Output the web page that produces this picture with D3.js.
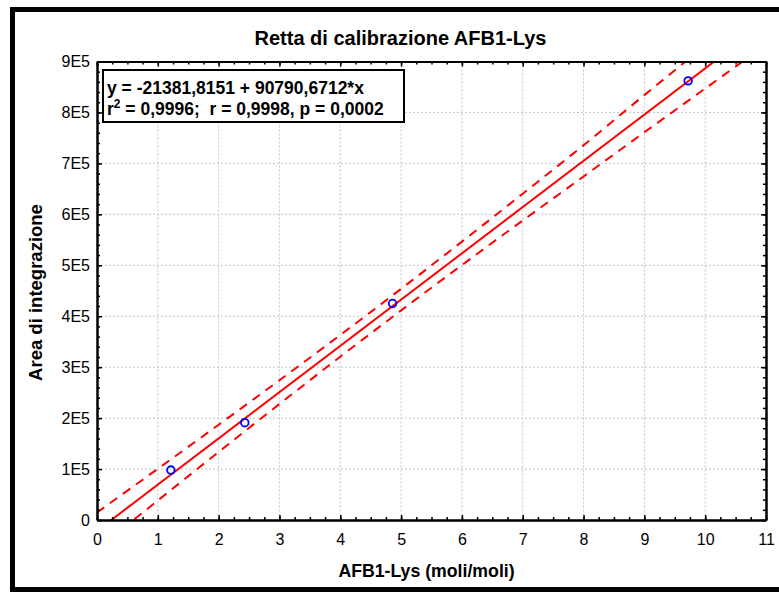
<!DOCTYPE html>
<html>
<head>
<meta charset="utf-8">
<script src="https://cdn.jsdelivr.net/npm/d3@7"></script>
<style>
  body { margin: 0; background: #fff; }
  svg text { font-family: Arial, "Liberation Sans", sans-serif; }
</style>
</head>
<body>
<script>
// calibration points
let concX = [1.215, 2.43, 4.86, 9.72];
let areaY = [98000, 191000, 425000, 862000];

// fit from the legend
let intercept = -21381.8151,
    slope = 90790.6712;
let fitX = [0, 11];

// confidence band, at each integer x
let bandX = [0, 1, 2, 3, 4, 5, 6, 7, 8, 9, 10, 11];
let bandUpper = [14700, 100500, 186900, 274300, 363100, 453800, 546400, 640500, 735500, 834000, 931000, 1026000];
let bandLower = [-57500, 38300, 133500, 227700, 320500, 411400, 500400, 587900, 674300, 761000, 847000, 933000];

let xTicks = [0, 1, 2, 3, 4, 5, 6, 7, 8, 9, 10, 11];
let yTicks = [0, 100000, 200000, 300000, 400000, 500000, 600000, 700000, 800000, 900000];
let yTickLabels = ["0", "1E5", "2E5", "3E5", "4E5", "5E5", "6E5", "7E5", "8E5", "9E5"];

let width = 779,
    height = 592;

let margin = {
  top: 61.5,
  bottom: 72,
  left: 97,
  right: 13
};

let w = width - margin.left - margin.right,
    h = height - margin.top - margin.bottom;

let root = d3.select('body')
    .append("svg")
    .attr("width", width)
    .attr("height", height);

root.append("rect")
    .attr("width", width)
    .attr("height", height)
    .attr("fill", "#fff");

// outer frame
root.append("rect")
    .attr("x", 12.5)
    .attr("y", 9.5)
    .attr("width", 820)
    .attr("height", 580)
    .attr("fill", "none")
    .attr("stroke", "#000")
    .attr("stroke-width", 5);

let svg = root.append("g")
    .attr("transform", "translate(" + margin.left + "," + margin.top + ")");

let x = d3.scaleLinear()
    .domain([0, 11])
    .range([0, w]);

let y = d3.scaleLinear()
    .domain([0, 900000])
    .range([h, 0]);

svg.append("defs").append("clipPath")
    .attr("id", "plot")
    .append("rect")
    .attr("width", w)
    .attr("height", h);

// grid
svg.selectAll(".gx")
    .data(xTicks.slice(1, -1))
    .enter()
    .append("line")
    .attr("x1", d => x(d))
    .attr("x2", d => x(d))
    .attr("y1", 0)
    .attr("y2", h)
    .attr("stroke", "#c4c4c4")
    .attr("stroke-dasharray", "2,2");

svg.selectAll(".gy")
    .data(yTicks.slice(1, -1))
    .enter()
    .append("line")
    .attr("x1", 0)
    .attr("x2", w)
    .attr("y1", d => y(d))
    .attr("y2", d => y(d))
    .attr("stroke", "#c4c4c4")
    .attr("stroke-dasharray", "2,2");

// lines
let lines = svg.append("g").attr("clip-path", "url(#plot)");

lines.append("path")
    .datum(fitX)
    .attr("d", d3.line().x(d => x(d)).y(d => y(intercept + slope * d)))
    .attr("fill", "none")
    .attr("stroke", "#ff0000")
    .attr("stroke-width", 2);

[bandUpper, bandLower].forEach(band => {
  lines.append("path")
      .datum(bandX.map((d, i) => [d, band[i]]))
      .attr("d", d3.line().x(d => x(d[0])).y(d => y(d[1])).curve(d3.curveCatmullRom))
      .attr("fill", "none")
      .attr("stroke", "#ff0000")
      .attr("stroke-width", 2)
      .attr("stroke-dasharray", "9,7");
});

svg.selectAll(".pt")
    .data(concX)
    .enter()
    .append("circle")
    .attr("cx", d => x(d))
    .attr("cy", (d, i) => y(areaY[i]))
    .attr("r", 3.8)
    .attr("fill", "none")
    .attr("stroke", "#0000ff")
    .attr("stroke-width", 1.8);

// axes: major + minor ticks, all pointing inwards
let minorX = d3.range(0, 11.001, 0.25),
    minorY = d3.range(0, 900001, 20000);

function styleAxis(g) {
  g.selectAll("path").attr("stroke-width", 2);
  g.selectAll("line").attr("stroke-width", 1.5);
  g.selectAll("text").attr("fill", "#000").style("font-size", "16px");
}

svg.append("g")
    .attr("transform", "translate(0," + h + ")")
    .call(d3.axisBottom(x).tickValues(minorX).tickSize(-3).tickSizeOuter(0).tickFormat(""))
    .call(styleAxis);
svg.append("g")
    .attr("transform", "translate(0," + h + ")")
    .call(d3.axisBottom(x).tickValues(xTicks).tickSize(-5).tickSizeOuter(0).tickPadding(14))
    .call(styleAxis);

svg.append("g")
    .call(d3.axisTop(x).tickValues(minorX).tickSize(-3).tickSizeOuter(0).tickFormat(""))
    .call(styleAxis);
svg.append("g")
    .call(d3.axisTop(x).tickValues(xTicks).tickSize(-5).tickSizeOuter(0).tickFormat(""))
    .call(styleAxis);

svg.append("g")
    .call(d3.axisLeft(y).tickValues(minorY).tickSize(-3).tickSizeOuter(0).tickFormat(""))
    .call(styleAxis);
svg.append("g")
    .call(d3.axisLeft(y).tickValues(yTicks).tickSize(-5).tickSizeOuter(0).tickPadding(7)
        .tickFormat((d, i) => yTickLabels[i]))
    .call(styleAxis);

svg.append("g")
    .attr("transform", "translate(" + w + ",0)")
    .call(d3.axisRight(y).tickValues(minorY).tickSize(-3).tickSizeOuter(0).tickFormat(""))
    .call(styleAxis);
svg.append("g")
    .attr("transform", "translate(" + w + ",0)")
    .call(d3.axisRight(y).tickValues(yTicks).tickSize(-5).tickSizeOuter(0).tickFormat(""))
    .call(styleAxis);

// legend box
let leg = svg.append("g")
    .attr("transform", "translate(6,8.5)");

leg.append("rect")
    .attr("width", 301)
    .attr("height", 52)
    .attr("fill", "#fff")
    .attr("stroke", "#000")
    .attr("stroke-width", 2);

leg.append("text")
    .attr("x", 4)
    .attr("y", 24)
    .style("font-size", "17.5px")
    .style("font-weight", "bold")
    .text("y = -21381,8151 + 90790,6712*x");

let t2 = leg.append("text")
    .attr("x", 4)
    .attr("y", 45)
    .style("font-size", "17.5px")
    .style("font-weight", "bold");
t2.append("tspan").text("r");
t2.append("tspan").attr("dy", -7).style("font-size", "12px").text("2");
t2.append("tspan").attr("dy", 7)
    .text(" = 0,9996;\u00a0 r = 0,9998, p = 0,0002");

// titles
root.append("text")
    .attr("x", 400.5)
    .attr("y", 45)
    .style("text-anchor", "middle")
    .style("font-size", "20px")
    .style("font-weight", "bold")
    .text("Retta di calibrazione AFB1-Lys");

root.append("text")
    .attr("x", 426.5)
    .attr("y", 577)
    .style("text-anchor", "middle")
    .style("font-size", "17.7px")
    .style("font-weight", "bold")
    .text("AFB1-Lys (moli/moli)");

root.append("text")
    .attr("x", -292.5)
    .attr("y", 42)
    .attr("transform", "rotate(-90)")
    .style("text-anchor", "middle")
    .style("font-size", "18.5px")
    .style("font-weight", "bold")
    .text("Area di integrazione");
</script>
</body>
</html>
